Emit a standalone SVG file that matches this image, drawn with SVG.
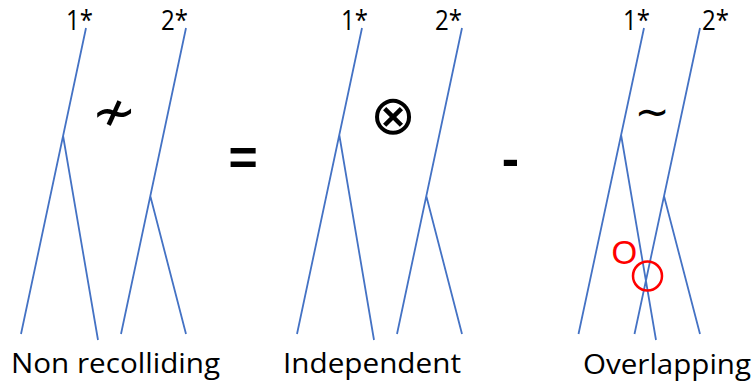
<svg xmlns="http://www.w3.org/2000/svg" width="753" height="385" viewBox="0 0 753 385">
<style>
.ln{stroke:#4472C4;stroke-width:1.8;fill:none;stroke-linecap:butt}
.lbl{font-family:"Open Sans","Noto Sans","Liberation Sans",sans-serif;font-size:28px;fill:#000}
.sym{font-family:"DejaVu Sans",sans-serif;fill:#000}
.op{font-family:"Liberation Sans",Arial,sans-serif;font-weight:bold;fill:#000}
.red{font-family:"Liberation Sans",Arial,sans-serif;font-size:33px;fill:#FF0000}
</style>
<rect width="753" height="385" fill="#fff"/>
<g id="connectors">
<path class="ln" d="M86,28 L21,334 M63.1,136 L98,340 M186,28 L121,334 M150.3,196 L186,334"/>
<path class="ln" d="M362,28 L297,334 M339.3,135 L374,340 M462,28 L397,334 M426.3,196 L462,334"/>
<path class="ln" d="M644,28 L578.5,334 M621.1,135 L656,340 M700,28 L634.5,334 M664,196 L700,334"/>
</g>
<g id="panel-nonrecolliding">
<text class="lbl" x="66" y="30" textLength="27" lengthAdjust="spacingAndGlyphs">1*</text>
<text class="lbl" x="161" y="30" textLength="27" lengthAdjust="spacingAndGlyphs">2*</text>
<text class="sym" x="114" y="130" font-size="54" text-anchor="middle">≁</text>
<text class="lbl" x="11" y="373" textLength="209" lengthAdjust="spacingAndGlyphs">Non recolliding</text>
</g>
<g id="op-equals"><text class="op" x="243" y="175" font-size="50" text-anchor="middle">=</text></g>
<g id="panel-independent">
<text class="lbl" x="341" y="30" textLength="27" lengthAdjust="spacingAndGlyphs">1*</text>
<text class="lbl" x="435" y="30" textLength="27" lengthAdjust="spacingAndGlyphs">2*</text>
<text class="sym" x="393" y="134" font-size="55" text-anchor="middle">⊗</text>
<text class="lbl" x="283" y="373" textLength="178" lengthAdjust="spacingAndGlyphs">Independent</text>
</g>
<g id="op-minus"><text class="op" x="510.5" y="176" font-size="52" text-anchor="middle">-</text></g>
<g id="panel-overlapping">
<text class="lbl" x="623" y="30" textLength="27" lengthAdjust="spacingAndGlyphs">1*</text>
<text class="lbl" x="702" y="30" textLength="27" lengthAdjust="spacingAndGlyphs">2*</text>
<text class="sym" x="652" y="125.5" font-size="42" text-anchor="middle">∼</text>
<text class="red" x="611.5" y="263.5">O</text>
<circle cx="647.5" cy="276" r="14.5" fill="none" stroke="#FF0000" stroke-width="2.5"/>
<text class="lbl" x="583" y="374" textLength="168" lengthAdjust="spacingAndGlyphs">Overlapping</text>
</g>
</svg>
